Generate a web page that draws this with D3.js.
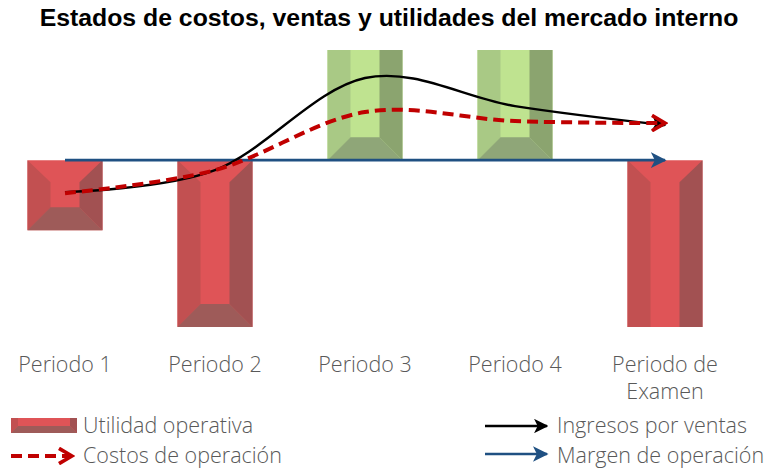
<!DOCTYPE html>
<html>
<head>
<meta charset="utf-8">
<script src="https://cdn.jsdelivr.net/npm/d3@7"></script>
<style>
    body { margin: 0; background: #fff; }
    svg { display: block; }
</style>
</head>
<body>
<div id="chart-div"></div>
<script>
// chart data
const periodos = [['Periodo 1'], ['Periodo 2'], ['Periodo 3'], ['Periodo 4'], ['Periodo de', 'Examen']];
const utilidad = [-2.1, -5.0, 3.3, 3.3, -5.0];   // Utilidad operativa (bars)
const ingresos = [-0.96, -0.3, 2.46, 1.62, 1.05]; // Ingresos por ventas
const costos = [-0.99, -0.3, 1.44, 1.17, 1.11];   // Costos de operación
const margen = [0, 0, 0, 0, 0];                   // Margen de operación

window.Vis = window.Vis || {};

Vis.init = function() {
    Vis.setup.initConsts();
    Vis.setup.initGraph();
    Vis.setup.initMarkers();

    Vis.core.drawTitle();
    Vis.core.drawBars();
    Vis.core.drawLines();
    Vis.core.drawLabels();
    Vis.core.drawLegend();
};

Vis.setup = {
    initConsts: function() {
        Vis.width = 777;
        Vis.height = 470;

        Vis.red = { front: '#df5457', left: '#c25051', right: '#a25152', bottom: '#9e5b59' };
        Vis.green = { front: '#bfe390', left: '#a9c985', right: '#8ba46f', bottom: '#8fa678' };

        Vis.textColor = '#595959';
        Vis.labelFont = '"Open Sans", Lato, sans-serif';
        Vis.labelSize = 21.5;
    },

    initGraph: function() {
        Vis.svg = d3.select('#chart-div')
                    .append('svg')
                     .attr('width', Vis.width)
                     .attr('height', Vis.height);

        Vis.x = d3.scaleBand()
                  .domain(d3.range(periodos.length))
                  .range([-10, 740])
                  .paddingInner(0.5)
                  .paddingOuter(0.25);
        Vis.y = d3.scaleLinear()
                  .domain([-5, 3.3])
                  .range([327, 50]);
    },

    initMarkers: function() {
        let defs = Vis.svg.append('defs');

        // filled arrow heads
        [['arrow-black', '#000'], ['arrow-blue', '#1f5082']].forEach(function(m) {
            defs.append('marker')
                .attr('id', m[0])
                .attr('viewBox', '0 0 10 10')
                .attr('refX', 9).attr('refY', 5)
                .attr('markerWidth', 6).attr('markerHeight', 6)
                .attr('markerUnits', 'strokeWidth')
                .attr('orient', 'auto')
              .append('path')
                .attr('d', 'M0,0 L10,5 L0,10 L2.5,5 Z')
                .attr('fill', m[1]);
        });

        // open chevron for the dashed red line
        defs.append('marker')
            .attr('id', 'arrow-red')
            .attr('viewBox', '0 0 12 12')
            .attr('refX', 10).attr('refY', 6)
            .attr('markerWidth', 4.6).attr('markerHeight', 4.6)
            .attr('markerUnits', 'strokeWidth')
            .attr('orient', 'auto')
          .append('path')
            .attr('d', 'M1.5,1 L10,6 L1.5,11')
            .attr('fill', 'none')
            .attr('stroke', '#c00000')
            .attr('stroke-width', 2.4)
            .attr('stroke-linejoin', 'miter');
    }
};

Vis.helpers = {
    // bevelled box: tb / bb are the sizes of top / bottom bevels
    bevelBox: function(g, x0, x1, y0, y1, b, tb, bb, col) {
        let pts = function(a) { return a.map(function(p) { return p.join(','); }).join(' '); };
        g.append('polygon').attr('fill', col.front)
         .attr('points', pts([[x0, y0], [x1, y0], [x1, y1], [x0, y1]]));
        g.append('polygon').attr('fill', col.left)
         .attr('points', pts([[x0, y0], [x0 + b, y0 + tb], [x0 + b, y1 - bb], [x0, y1]]));
        g.append('polygon').attr('fill', col.right)
         .attr('points', pts([[x1, y0], [x1, y1], [x1 - b, y1 - bb], [x1 - b, y0 + tb]]));
        if (bb > 0) {
            g.append('polygon').attr('fill', col.bottom)
             .attr('points', pts([[x0, y1], [x1, y1], [x1 - b, y1 - bb], [x0 + b, y1 - bb]]));
        }
    }
};

Vis.core = {
    drawTitle: function() {
        Vis.svg.append('text')
               .attr('x', 389).attr('y', 26)
               .attr('text-anchor', 'middle')
               .attr('font-family', '"Liberation Sans", Arial, sans-serif')
               .attr('font-weight', 'bold')
               .attr('font-size', 24.8)
               .attr('fill', '#000')
               .text('Estados de costos, ventas y utilidades del mercado interno');
    },

    drawBars: function() {
        let g = Vis.svg.append('g').attr('class', 'bars');
        let b = 23;
        utilidad.forEach(function(v, i) {
            let x0 = Vis.x(i), x1 = x0 + Vis.x.bandwidth();
            let y0 = Math.min(Vis.y(v), Vis.y(0)), y1 = Math.max(Vis.y(v), Vis.y(0));
            let col = v < 0 ? Vis.red : Vis.green;
            let tb = v < 0 ? 22 : 0;
            let bb = i === periodos.length - 1 ? 0 : b; // last bar is cut flat at the bottom
            Vis.helpers.bevelBox(g.append('g'), x0, x1, y0, y1, b, tb, bb, col);
        });
    },

    drawLines: function() {
        let cx = function(d, i) { return Vis.x(i) + Vis.x.bandwidth() / 2; };
        let smooth = d3.line().x(cx).y(function(d) { return Vis.y(d); })
                       .curve(d3.curveCatmullRom.alpha(0));
        let straight = d3.line().x(cx).y(function(d) { return Vis.y(d); });

        Vis.svg.append('path')
               .attr('d', straight(margen))
               .attr('fill', 'none')
               .attr('stroke', '#1f5082')
               .attr('stroke-width', 2.6)
               .attr('marker-end', 'url(#arrow-blue)');

        Vis.svg.append('path')
               .attr('d', smooth(ingresos))
               .attr('fill', 'none')
               .attr('stroke', '#000')
               .attr('stroke-width', 2.4)
               .attr('marker-end', 'url(#arrow-black)');

        Vis.svg.append('path')
               .attr('d', smooth(costos))
               .attr('fill', 'none')
               .attr('stroke', '#c00000')
               .attr('stroke-width', 4)
               .attr('stroke-dasharray', '11,6')
               .attr('marker-end', 'url(#arrow-red)');
    },

    drawLabels: function() {
        let g = Vis.svg.append('g').attr('class', 'labels');
        periodos.forEach(function(lines, i) {
            let t = g.append('text')
                     .attr('x', Vis.x(i) + Vis.x.bandwidth() / 2)
                     .attr('y', 372)
                     .attr('text-anchor', 'middle')
                     .attr('font-family', Vis.labelFont)
                     .attr('font-weight', 300)
                     .attr('font-size', Vis.labelSize)
                     .attr('fill', Vis.textColor);
            lines.forEach(function(s, k) {
                t.append('tspan')
                 .attr('x', Vis.x(i) + Vis.x.bandwidth() / 2)
                 .attr('dy', k === 0 ? 0 : 27)
                 .text(s);
            });
        });
    },

    drawLegend: function() {
        let g = Vis.svg.append('g').attr('class', 'legend');

        // Utilidad operativa swatch
        Vis.helpers.bevelBox(g.append('g'), 11, 77, 418, 433, 7, 0, 7, Vis.red);

        // Costos de operación
        g.append('path')
         .attr('d', 'M11,456 L72,456')
         .attr('stroke', '#c00000').attr('stroke-width', 4)
         .attr('stroke-dasharray', '11,6')
         .attr('marker-end', 'url(#arrow-red)');

        // Ingresos por ventas
        g.append('path')
         .attr('d', 'M485,426 L547,426')
         .attr('stroke', '#000').attr('stroke-width', 2.4)
         .attr('marker-end', 'url(#arrow-black)');

        // Margen de operación
        g.append('path')
         .attr('d', 'M485,454 L547,454')
         .attr('stroke', '#1f5082').attr('stroke-width', 2.6)
         .attr('marker-end', 'url(#arrow-blue)');

        let items = [
            ['Utilidad operativa', 83, 433],
            ['Costos de operación', 83, 463],
            ['Ingresos por ventas', 557, 433],
            ['Margen de operación', 557, 463]
        ];
        g.selectAll('text.leg')
         .data(items)
         .enter().append('text')
          .attr('class', 'leg')
          .attr('x', function(d) { return d[1]; })
          .attr('y', function(d) { return d[2]; })
          .attr('font-family', Vis.labelFont)
          .attr('font-weight', 300)
          .attr('font-size', Vis.labelSize)
          .attr('fill', Vis.textColor)
          .text(function(d) { return d[0]; });
    }
};

document.addEventListener('DOMContentLoaded', Vis.init);
</script>
</body>
</html>
